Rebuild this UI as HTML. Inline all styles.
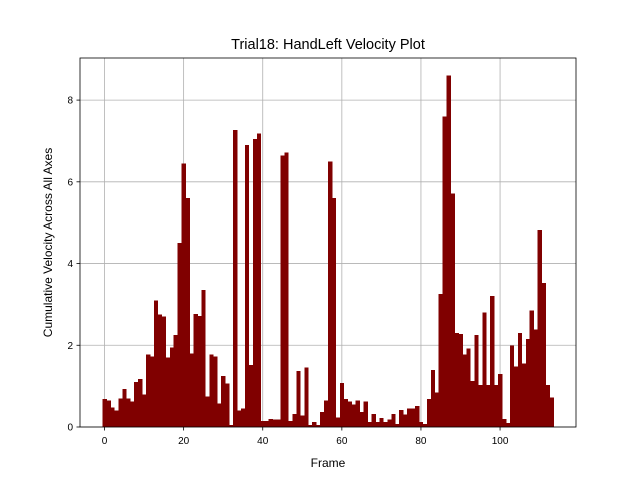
<!DOCTYPE html>
<html><head><meta charset="utf-8"><style>body{margin:0;background:#fff}svg{display:block;font-family:"Liberation Sans","DejaVu Sans",sans-serif}#bars rect{shape-rendering:crispEdges}</style></head>
<body>
<svg id="chart" width="640" height="480">
<rect width="640" height="480" fill="#fff"/>
<g id="grid"></g><g id="bars"></g><g id="axes"></g>
</svg>
<script>
const frames = Array.from({length:114},(_,i)=>i);
const velocities = [0.68,0.65,0.48,0.4,0.7,0.93,0.7,0.62,1.1,1.17,0.8,1.77,1.73,3.1,2.75,2.7,1.7,1.95,2.25,4.5,6.45,5.6,1.8,2.76,2.72,3.35,0.75,1.78,1.72,0.57,1.25,1.07,0.05,7.27,0.4,0.45,6.9,1.52,7.05,7.18,0.15,0.15,0.2,0.18,0.18,6.65,6.72,0.15,0.32,1.37,0.28,1.45,0.05,0.12,0.05,0.37,0.65,6.5,5.6,0.23,1.08,0.68,0.63,0.55,0.65,0.37,0.62,0.12,0.32,0.12,0.22,0.12,0.18,0.32,0.07,0.42,0.3,0.45,0.45,0.52,0.12,0.07,0.68,1.4,0.85,3.25,7.6,8.6,5.72,2.3,2.28,1.78,1.92,1.13,2.25,1.03,2.8,1.03,3.2,1.03,1.3,0.2,0.1,2.0,1.48,2.3,1.55,2.15,2.85,2.38,4.82,3.52,1.03,0.72];
const xTicks = [0,20,40,60,80,100];
const yTicks = [0,2,4,6,8];
const L=80,R=576,T=58,B=427;
const n=frames.length, xmin=-0.5-(n)*0.05, xmax=n-0.5+(n)*0.05;
const ymax=Math.max(...velocities)*1.05;
const X=v=>L+(v-xmin)/(xmax-xmin)*(R-L);
const Y=v=>B-v/ymax*(B-T);
const NS='http://www.w3.org/2000/svg';
function mk(tag,attrs,parent,text){const e=document.createElementNS(NS,tag);for(const k in attrs)e.setAttribute(k,attrs[k]);if(text!==undefined)e.textContent=text;parent.appendChild(e);return e;}
const grid=document.getElementById('grid'),bars=document.getElementById('bars'),axes=document.getElementById('axes');
xTicks.forEach(t=>{const g=mk('line',{x1:X(t),x2:X(t),y1:T,y2:B,stroke:'#b0b0b0','stroke-width':0.8},grid);

});
yTicks.forEach(t=>{const g=mk('line',{x1:L,x2:R,y1:Y(t),y2:Y(t),stroke:'#b0b0b0','stroke-width':0.8},grid);

});
frames.forEach((f,i)=>{const v=velocities[i];const b=mk('rect',{x:X(f-0.5),y:Y(v),width:X(f+0.5)-X(f-0.5)+0.3,height:B-Y(v),fill:'#800000'},bars);

});
const frame=mk('rect',{x:L,y:T,width:R-L,height:B-T,fill:'none',stroke:'#000','stroke-width':0.8},axes);


xTicks.forEach(t=>{mk('line',{x1:X(t),x2:X(t),y1:B,y2:B+3.5,stroke:'#000','stroke-width':0.8},axes);
const l=mk('text',{x:X(t),y:B+17,'font-size':10,'text-anchor':'middle'},axes,t);

});
yTicks.forEach(t=>{mk('line',{x1:L-3.5,x2:L,y1:Y(t),y2:Y(t),stroke:'#000','stroke-width':0.8},axes);
const l=mk('text',{x:L-7,y:Y(t)+3.5,'font-size':10,'text-anchor':'end'},axes,t);

});
const title=mk('text',{x:(L+R)/2,y:49,'font-size':14.5,'text-anchor':'middle'},axes,'Trial18: HandLeft Velocity Plot');


const xl=mk('text',{x:(L+R)/2,y:467,'font-size':12,'text-anchor':'middle'},axes,'Frame');


const yl=mk('text',{x:0,y:0,'font-size':12,'text-anchor':'middle',transform:'translate(52,'+((T+B)/2)+') rotate(-90)'},axes,'Cumulative Velocity Across All Axes');


</script>
</body></html>
